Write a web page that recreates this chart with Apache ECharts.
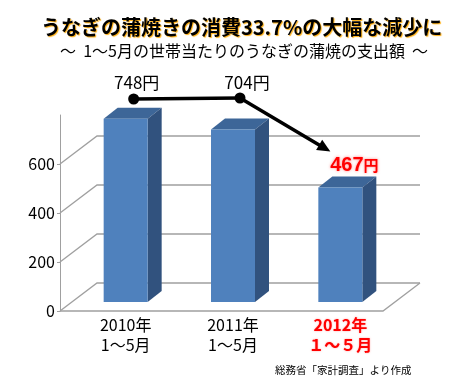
<!DOCTYPE html>
<html><head><meta charset="utf-8">
<script src="https://cdn.jsdelivr.net/npm/echarts@6/dist/echarts.min.js"></script>
<style>html,body{margin:0;padding:0;background:#fff}#c{width:475px;height:378px}</style>
</head><body><div id="c"></div>
<script>
const categories = ['2010年\n1～5月', '2011年\n1～5月', '2012年\n１～５月'];
const values = [748, 704, 467];
const valueLabels = ['748円', '704円', '467円'];
const yTicks = [0, 200, 400, 600];
const titleText = 'うなぎの蒲焼きの消費33.7%の大幅な減少に';
const subtitleText = '～  1～5月の世帯当たりのうなぎの蒲焼の支出額  ～';
const sourceText = '総務省「家計調査」より作成';

const FONT = '"Noto Sans CJK JP", sans-serif';
const DX = 37, DY = 28;     // wall depth
const BOY = 9;              // bar vertical offset from front plane
const BW = 44, SX = 14, SY = 11;
const GRID_C = '#a0a0a0';

const chart = echarts.init(document.getElementById('c'), null, {renderer: 'canvas'});

const option = {
  animation: false,
  backgroundColor: '#fff',
  title: [
    {text: titleText, left: 36, top: 12,
     textStyle: {fontFamily: FONT, fontSize: 20, fontWeight: 'bold', color: '#000',
       textShadowColor: 'rgba(255,170,0,0.95)', textShadowBlur: 1, textShadowOffsetX: 1, textShadowOffsetY: 1}},
    {text: subtitleText, left: 55, top: 38,
     textStyle: {fontFamily: FONT, fontSize: 16, fontWeight: 'normal', color: '#000'}},
    {text: sourceText, left: 270, top: 360,
     textStyle: {fontFamily: FONT, fontSize: 10.5, fontWeight: 'normal', color: '#000'}}
  ],
  grid: {left: 72, right: 81, top: 115, bottom: 67},
  xAxis: {
    type: 'category', data: categories,
    axisLine: {show: false}, axisTick: {show: false},
    axisLabel: {
      margin: 4, interval: 0,
      formatter: (v, i) => {
        const parts = v.split('\n');
        const k = i === 2 ? 'r' : 'n';
        return '{' + k + '|' + parts[0] + '}\n{' + k + '|' + parts[1] + '}';
      },
      rich: {
        n: {fontFamily: FONT, fontSize: 16, color: '#000', lineHeight: 20},
        r: {fontFamily: FONT, fontSize: 16, fontWeight: 'bold', color: '#ff0000', lineHeight: 20,
            textShadowColor: 'rgba(255,140,140,0.8)', textShadowBlur: 2}
      }
    }
  },
  yAxis: {
    type: 'value', min: 0, max: 800, interval: 200, offset: 12,
    axisLine: {show: true, lineStyle: {color: GRID_C, width: 1}},
    axisTick: {show: true, length: 3, customValues: yTicks, lineStyle: {color: GRID_C}},
    splitLine: {show: false},
    axisLabel: {customValues: yTicks, margin: 5,
      fontFamily: FONT, fontSize: 16, color: '#000'}
  },
  series: [
    {
      type: 'custom', z: 1, silent: true,
      data: yTicks.map(v => [0, v]),
      renderItem: (params, api) => {
        const cs = params.coordSys;
        const y = api.coord([0, api.value(1)])[1];
        const x0 = cs.x - 12;
        const xr = cs.x + cs.width - 11;
        const st = {stroke: GRID_C, lineWidth: 1.3, fill: null};
        const children = [
          {type: 'polyline', shape: {points: [[x0, y], [x0 + DX, y - DY], [xr + DX, y - DY]]}, style: st}
        ];
        if (api.value(1) === 0) {
          children.push({type: 'polyline', shape: {points: [[x0, y], [xr, y], [xr + DX, y - DY]]}, style: st});
        }
        return {type: 'group', children};
      }
    },
    {
      type: 'custom', z: 3, silent: true,
      data: values.map((v, i) => [i, v]),
      renderItem: (params, api) => {
        const c = api.coord([api.value(0), api.value(1)]);
        const b = api.coord([api.value(0), 0]);
        const L = c[0] - BW / 2, R = L + BW, T = c[1] - BOY, B = b[1] - BOY;
        return {type: 'group', children: [
          {type: 'polygon', shape: {points: [[L, T], [R, T], [R + SX, T - SY], [L + SX, T - SY]]},
           style: {fill: '#3d6698'}},
          {type: 'polygon', shape: {points: [[R, T], [R + SX, T - SY], [R + SX, B - SY], [R, B]]},
           style: {fill: '#31527e'}},
          {type: 'rect', shape: {x: L, y: T, width: BW, height: B - T}, style: {fill: '#4f81bd'}}
        ]};
      }
    }
  ]
};
chart.setOption(option);

// annotations (connector, arrow, value labels), positioned through the chart's scales
const px = i => chart.convertToPixel({xAxisIndex: 0}, i);
const py = v => chart.convertToPixel({yAxisIndex: 0}, v);
const dotY = 99;
const d0 = [px(0) + 8, dotY], d1 = [px(1) + 7, dotY - 1];
const tip = [px(2) - 10, py(values[2]) - BOY - 36];
const dir = [tip[0] - d1[0], tip[1] - d1[1]];
const len = Math.hypot(dir[0], dir[1]);
const u = [dir[0] / len, dir[1] / len], n = [-u[1], u[0]];
const AH = 13, AW = 6;
const base = [tip[0] - u[0] * AH, tip[1] - u[1] * AH];
const graphics = [
  {type: 'line', shape: {x1: d0[0], y1: d0[1], x2: d1[0], y2: d1[1]}, style: {stroke: '#000', lineWidth: 3.5}, z: 10},
  {type: 'line', shape: {x1: d1[0], y1: d1[1], x2: base[0] + u[0] * 2, y2: base[1] + u[1] * 2}, style: {stroke: '#000', lineWidth: 3.5}, z: 10},
  {type: 'polygon', shape: {points: [tip, [base[0] + n[0] * AW, base[1] + n[1] * AW], [base[0] - n[0] * AW, base[1] - n[1] * AW]]},
   style: {fill: '#000'}, z: 10},
  {type: 'circle', shape: {cx: d0[0], cy: d0[1], r: 5.5}, style: {fill: '#000'}, z: 11},
  {type: 'circle', shape: {cx: d1[0], cy: d1[1], r: 5.5}, style: {fill: '#000'}, z: 11},
  {type: 'text', x: d0[0] + 3, y: 83, z: 11,
   style: {text: valueLabels[0], fontFamily: FONT, fontSize: 17, fill: '#000', align: 'center', verticalAlign: 'middle'}},
  {type: 'text', x: d1[0] + 7, y: 83, z: 11,
   style: {text: valueLabels[1], fontFamily: FONT, fontSize: 17, fill: '#000', align: 'center', verticalAlign: 'middle'}},
  {type: 'text', x: px(2) + 14, y: py(values[2]) - BOY - 22, z: 11,
   style: {text: '{a|' + valueLabels[2].replace('円', '') + '}{b|円}', align: 'center', verticalAlign: 'middle',
     rich: {
       a: {fontFamily: 'Arial, "Liberation Sans", sans-serif', fontSize: 20, fontWeight: 'bold', fill: '#ff0000',
           textShadowColor: 'rgba(255,120,120,0.9)', textShadowBlur: 3},
       b: {fontFamily: FONT, fontSize: 15, fontWeight: 'bold', fill: '#ff0000',
           textShadowColor: 'rgba(255,120,120,0.9)', textShadowBlur: 3}
     }}}
];
chart.setOption({graphic: graphics});
</script>
</body></html>
